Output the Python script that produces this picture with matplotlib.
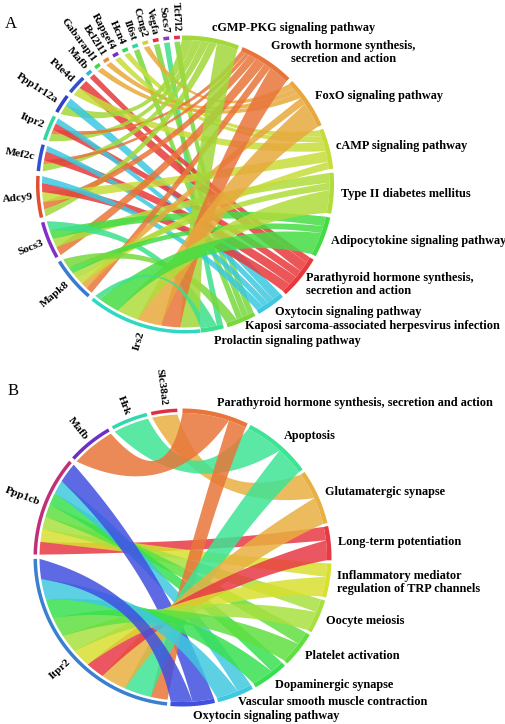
import numpy as np
import matplotlib.pyplot as plt
from matplotlib.patches import Polygon

plt.rcParams['font.family'] = ['Liberation Serif', 'DejaVu Serif']

# ---- panel A data ----
genes_a = ["Tcf7l2", "Socs7", "Vegfa", "Ccng2", "Il6st", "Hcn4", "Rapgef4", "Bcl2l11",
           "Gabarapl1", "Mafb", "Pde4d", "Ppp1r12a", "Itpr2", "Mef2c", "Adcy9", "Socs3",
           "Mapk8", "Irs2"]
gene_colors_a = ["#e0305a", "#8a3ad0", "#e83040", "#d8d030", "#30d8a0", "#30d860", "#7030d0",
                 "#e89030", "#40d840", "#30b8d8", "#3050d0", "#3040c8", "#30d8a0", "#3050d0",
                 "#e05030", "#8030c8", "#3a7ad0", "#30d8c0"]
paths_a = ["cGMP-PKG signaling pathway", "Growth hormone synthesis,\nsecretion and action",
           "FoxO signaling pathway", "cAMP signaling pathway", "Type II diabetes mellitus",
           "Adipocytokine signaling pathway", "Parathyroid hormone synthesis,\nsecretion and action",
           "Oxytocin signaling pathway", "Kaposi sarcoma-associated herpesvirus infection",
           "Prolactin signaling pathway"]
path_colors_a = ["#a2d83a", "#e8743a", "#e8a83c", "#c6dc3a", "#b0dc3c", "#44dc44", "#e8383c",
                 "#3cc8e0", "#78d83c", "#3ce08c"]
link_gene_a = ["Tcf7l2", "Socs7", "Vegfa", "Ccng2", "Il6st", "Hcn4", "Rapgef4", "Bcl2l11",
               "Gabarapl1", "Mafb",
               "Pde4d", "Pde4d", "Ppp1r12a", "Ppp1r12a",
               "Itpr2", "Itpr2", "Itpr2", "Itpr2",
               "Mef2c", "Mef2c", "Mef2c", "Mef2c",
               "Adcy9", "Adcy9", "Adcy9", "Adcy9", "Adcy9",
               "Socs3", "Socs3", "Socs3", "Socs3",
               "Mapk8", "Mapk8", "Mapk8", "Mapk8", "Mapk8", "Mapk8",
               "Irs2", "Irs2", "Irs2", "Irs2", "Irs2", "Irs2"]
link_path_a = [8, 9, 8, 2, 8, 3, 3, 2, 2, 6,
               6, 3, 0, 7,
               0, 1, 6, 7,
               0, 1, 6, 7,
               0, 1, 3, 6, 7,
               1, 4, 5, 9,
               1, 2, 3, 4, 5, 8,
               0, 1, 2, 4, 5, 9]
link_val_a = [1, 1, 1, 1, 1, 1, 1, 1, 1, 1,
              1.7, 1.6, 1.8, 1.5,
              1.4, 0.8, 1.2, 1.0,
              1.3, 0.7, 1.6, 1.0,
              1.3, 1.3, 1.8, 1.6, 1.2,
              1.6, 1.6, 1.6, 1.7,
              1.2, 1.2, 1.2, 1.2, 1.2, 1.8,
              3.5, 3.4, 4.3, 3.8, 3.8, 1.0]

# ---- panel B data ----
genes_b = ["Slc38a2", "Hrk", "Mafb", "Ppp1cb", "Itpr2"]
gene_colors_b = ["#e03040", "#30d8b0", "#6a30c8", "#c0307a", "#3a80d0"]
paths_b = ["Parathyroid hormone synthesis, secretion and action", "Apoptosis",
           "Glutamatergic synapse", "Long-term potentiation",
           "Inflammatory mediator\nregulation of TRP channels", "Oocyte meiosis",
           "Platelet activation", "Dopaminergic synapse",
           "Vascular smooth muscle contraction", "Oxytocin signaling pathway"]
path_colors_b = ["#e8763a", "#3de494", "#e8b040", "#e83a44", "#d8e030", "#a8e040",
                 "#60e040", "#38e050", "#40c8e0", "#4050e0"]
link_gene_b = ["Slc38a2", "Hrk", "Mafb",
               "Ppp1cb", "Ppp1cb", "Ppp1cb", "Ppp1cb", "Ppp1cb", "Ppp1cb", "Ppp1cb",
               "Itpr2", "Itpr2", "Itpr2", "Itpr2", "Itpr2", "Itpr2", "Itpr2", "Itpr2",
               "Itpr2", "Itpr2"]
link_path_b = [2, 1, 0,
               3, 4, 5, 6, 7, 8, 9,
               0, 1, 2, 3, 4, 5, 6, 7, 8, 9]
link_val_b = [1.5, 2.1, 2.6,
              0.75, 0.75, 0.75, 0.75, 0.75, 0.8, 1.2,
              1.0, 1.6, 1.5, 1.1, 1.1, 1.1, 1.2, 1.2, 1.2, 1.2]

FS = 8.8      # pathway labels
GFS = 8.1     # gene labels


def pts(cx, cy, r, a):
    t = np.radians(a)
    return np.column_stack([cx + r * np.cos(t), cy - r * np.sin(t)])


def band(ax, cx, cy, r0, r1, a0, a1, color):
    a = np.linspace(a0, a1, 40)
    xy = np.vstack([pts(cx, cy, r1, a), pts(cx, cy, r0, a[::-1])])
    ax.add_patch(Polygon(xy, closed=True, fc=color, ec='none', zorder=3))


def edge(p, q, c, h=0.55):
    # quadratic curve whose control point sits between chord middle and centre
    m = (p + q) / 2
    ctrl = m + h * (c - m)
    u = np.linspace(0, 1, 50)[:, None]
    return (1 - u) ** 2 * p + 2 * (1 - u) * u * ctrl + u ** 2 * q


def ribbon(ax, cx, cy, rs, s, rt, t, color):
    s0, s1 = sorted(s)
    t0, t1 = sorted(t)
    c = np.array([cx, cy])
    arc1 = pts(cx, cy, rs, np.linspace(s0, s1, 30))
    arc2 = pts(cx, cy, rt, np.linspace(t0, t1, 30))
    xy = np.vstack([arc1, edge(arc1[-1], arc2[0], c), arc2, edge(arc2[-1], arc1[0], c)])
    ax.add_patch(Polygon(xy, closed=True, fc=color, ec='none', alpha=0.85, zorder=2))


def sectors(weights, start, end, gap, sign):
    unit = (abs(end - start) - gap * (len(weights) - 1)) / sum(weights)
    out = []
    cur = start
    for w in weights:
        out.append((cur, cur + sign * w * unit))
        cur += sign * (w * unit + gap)
    return out


def chord(ax, cx, cy, r, genes, gcols, paths, pcols, lg, lp, lv,
          grange, prange, ggap, pgap):
    gi = [genes.index(g) for g in lg]
    gsum = [sum(v for k, v in zip(gi, lv) if k == i) for i in range(len(genes))]
    psum = [sum(v for k, v in zip(lp, lv) if k == j) for j in range(len(paths))]
    gsec = sectors(gsum, grange[0], grange[1], ggap, 1)
    psec = sectors(psum, prange[0], prange[1], pgap, -1)
    gunit = (gsec[0][1] - gsec[0][0]) / gsum[0]
    punit = (psec[0][0] - psec[0][1]) / psum[0]

    # gene side: within a gene, links ordered by pathway index descending
    gspan = {}
    for i in range(len(genes)):
        cur = gsec[i][0]
        ks = sorted([k for k in range(len(lv)) if gi[k] == i], key=lambda k: -lp[k])
        for k in ks:
            gspan[k] = (cur, cur + lv[k] * gunit)
            cur += lv[k] * gunit
    # pathway side: links ordered by gene index ascending (clockwise)
    pspan = {}
    for j in range(len(paths)):
        cur = psec[j][0]
        ks = sorted([k for k in range(len(lv)) if lp[k] == j], key=lambda k: gi[k])
        for k in ks:
            pspan[k] = (cur, cur - lv[k] * punit)
            cur -= lv[k] * punit

    for k in range(len(lv)):
        ribbon(ax, cx, cy, r - 6, gspan[k], r - 4.5, pspan[k], pcols[lp[k]])

    for i, g in enumerate(genes):
        a0, a1 = gsec[i]
        band(ax, cx, cy, r - 3.5, r, a0, a1, gcols[i])
        m = (a0 + a1) / 2
        x, y = pts(cx, cy, r + 4, m)[0]
        ax.text(x, y, g, rotation=m - 180, rotation_mode='anchor', ha='right',
                va='center', fontsize=GFS, fontweight='bold', zorder=4)

    # pathway labels: start at arc middle, then keep them apart vertically
    mids = [(a0 + a1) / 2 for a0, a1 in psec]
    xs = [pts(cx, cy, r + 7, m)[0][0] for m in mids]
    ys = [cy - (r + 10) * np.sin(np.radians(m)) for m in mids]
    hs = [13.5 * (p.count("\n") + 1) for p in paths]
    up = [j for j in range(len(paths)) if mids[j] >= 0]
    down = [j for j in range(len(paths)) if mids[j] < 0]
    for a, b in zip(up[:-1], up[1:]):
        ys[b] = max(ys[b], ys[a] + (hs[a] + hs[b]) / 2 + 4)
    down = down[::-1]
    for a, b in zip(down[:-1], down[1:]):
        ys[b] = min(ys[b], ys[a] - (hs[a] + hs[b]) / 2 - 1)
    for j, p in enumerate(paths):
        a0, a1 = psec[j]
        band(ax, cx, cy, r - 4.5, r, a1, a0, pcols[j])
        ax.text(xs[j], ys[j], p, ha='left', va='center', fontsize=FS, fontweight='bold',
                multialignment='center' if j == 1 else 'left', linespacing=1.1, zorder=4)


fig = plt.figure(figsize=(5.06, 7.24), dpi=100)
ax = fig.add_axes([0, 0, 1, 1])
ax.set_xlim(0, 506)
ax.set_ylim(724, 0)
ax.axis('off')

chord(ax, 185, 184.5, 149, genes_a, gene_colors_a, paths_a, path_colors_a,
      link_gene_a, link_path_a, link_val_a, (92.0, 276.0), (91.2, -83.8), 1.9, 1.5)
chord(ax, 182.5, 557.5, 149, genes_b, gene_colors_b, paths_b, path_colors_b,
      link_gene_b, link_path_b, link_val_b, (92.0, 264.0), (90.0, -94.7), 1.7, 1.2)

ax.text(5, 24, "A", fontsize=12, ha='left', va='center')
ax.text(8, 391, "B", fontsize=12, ha='left', va='center')

fig.savefig("out.png", dpi=100)
